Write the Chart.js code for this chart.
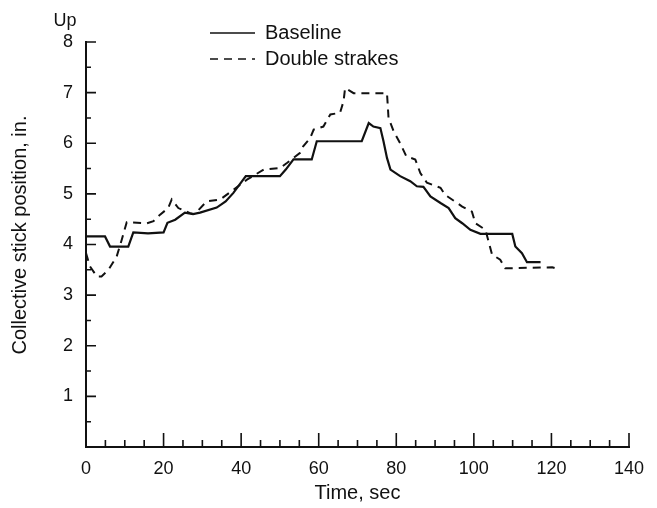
<!DOCTYPE html>
<html>
<head>
<meta charset="utf-8">
<script src="https://cdn.jsdelivr.net/npm/chart.js@4/dist/chart.umd.min.js"></script>
<style>
  body { margin: 0; background: #fff; }
  canvas { display: block; }
</style>
</head>
<body>
<canvas id="myChart" width="657" height="508"></canvas>
<script>
// data (time in sec, stick position in inches)
const seriesNames = ['Baseline', 'Double strakes'];

const baselineTime = [0, 4.9, 6.2, 10.9, 12.2, 16, 20, 21, 23, 25.5, 27.6, 29.4, 33.7, 36, 38, 41.2, 45, 50, 51.5, 53.5,
  58.2, 59.5, 65, 71.1, 72.9, 74.1, 75.9, 76.7, 77.6, 78.5, 81, 83.6, 85.3, 87, 88.8, 91.4, 93.5, 95.2, 97, 99.1,
  101.7, 105, 109.9, 110.7, 112.4, 113.7, 117.2];
const baselinePos = [4.16, 4.16, 3.96, 3.96, 4.24, 4.22, 4.24, 4.43, 4.49, 4.63, 4.6, 4.63, 4.73, 4.85, 5.02, 5.35, 5.35, 5.35, 5.48, 5.68,
  5.68, 6.04, 6.04, 6.04, 6.40, 6.33, 6.30, 6.04, 5.71, 5.48, 5.35, 5.25, 5.15, 5.14, 4.95, 4.82, 4.72, 4.52, 4.42, 4.29,
  4.21, 4.21, 4.21, 3.96, 3.83, 3.65, 3.65];

const strakesTime = [0, 1, 2.8, 4, 5.8, 7.9, 9.2, 10.5, 15.7, 17.4, 19.1, 21.2, 22.1, 23.8, 26.8, 28, 31.1, 34.6, 38, 41.5,
  45.8, 50, 51.8, 55.2, 56, 57.8, 58.7, 61.2, 63, 65.5, 66.4, 66.8, 69, 77.6, 78, 79.3, 81, 82.6, 84.9, 86.2,
  87.9, 91.4, 92.6, 97, 99.5, 100.4, 103, 103.9, 104.7, 106.8, 108.1, 120.2, 122.3];
const strakesPos = [3.83, 3.57, 3.37, 3.37, 3.5, 3.76, 4.09, 4.44, 4.42, 4.46, 4.59, 4.72, 4.89, 4.72, 4.62, 4.6, 4.85, 4.89, 5.08, 5.28,
  5.48, 5.51, 5.61, 5.81, 5.94, 6.1, 6.27, 6.33, 6.57, 6.6, 6.83, 7.09, 6.99, 6.99, 6.5, 6.24, 6.0, 5.74, 5.68, 5.41,
  5.22, 5.12, 4.98, 4.75, 4.65, 4.42, 4.29, 4.03, 3.8, 3.7, 3.53, 3.55, 3.5];

const xTickValues = [0, 20, 40, 60, 80, 100, 120, 140];
const yTickValues = [1, 2, 3, 4, 5, 6, 7, 8];
const yTitle = 'Collective stick position, in.';

const FONT = '"Liberation Sans", Arial, sans-serif';
const INK = '#111';

function toPoints(xs, ys) {
  return xs.map((x, i) => ({ x: x, y: ys[i] }));
}

// inward tick marks, y title, "Up" label and the legend
const decorations = {
  id: 'decorations',
  afterDraw(chart) {
    const c = chart.ctx;
    const xs = chart.scales.x;
    const ys = chart.scales.y;
    const x0 = xs.getPixelForValue(0);
    const y0 = ys.getPixelForValue(0);
    c.save();
    c.strokeStyle = INK;
    c.lineWidth = 1.6;
    c.beginPath();
    for (let t = 5; t <= 140; t += 5) {
      const px = xs.getPixelForValue(t);
      const len = t % 20 === 0 ? 14 : 7;
      c.moveTo(px, y0);
      c.lineTo(px, y0 - len);
    }
    for (let v = 0.5; v <= 8; v += 0.5) {
      const py = ys.getPixelForValue(v);
      const len = v % 1 === 0 ? 10 : 5;
      c.moveTo(x0, py);
      c.lineTo(x0 + len, py);
    }
    c.stroke();

    c.fillStyle = INK;
    c.textAlign = 'center';
    c.textBaseline = 'middle';
    c.font = '18px ' + FONT;
    c.fillText('Up', 65, 21);

    c.font = '20px ' + FONT;
    c.save();
    c.translate(20, 235);
    c.rotate(-Math.PI / 2);
    c.fillText(yTitle, 0, 0);
    c.restore();

    // legend
    const ds = chart.data.datasets;
    const rows = [33, 59];
    c.textAlign = 'left';
    ds.forEach((d, i) => {
      c.lineWidth = 1.6;
      c.setLineDash(d.borderDash || []);
      c.beginPath();
      c.moveTo(210, rows[i]);
      c.lineTo(255, rows[i]);
      c.stroke();
      c.setLineDash([]);
      c.fillText(d.label, 265, rows[i]);
    });
    c.restore();
  }
};

const ctx = document.getElementById('myChart');
new Chart(ctx, {
  type: 'line',
  data: {
    datasets: [{
      label: seriesNames[0],
      data: toPoints(baselineTime, baselinePos),
      borderColor: INK,
      borderWidth: 2.2,
      pointRadius: 0,
      tension: 0
    }, {
      label: seriesNames[1],
      data: toPoints(strakesTime, strakesPos),
      borderColor: INK,
      borderWidth: 2,
      borderDash: [8, 6],
      pointRadius: 0,
      tension: 0
    }]
  },
  options: {
    responsive: false,
    animation: false,
    layout: { padding: { top: 42, right: 28, bottom: 0, left: 0 } },
    plugins: {
      legend: { display: false },
      tooltip: { enabled: false }
    },
    scales: {
      x: {
        type: 'linear',
        min: 0,
        max: 140,
        afterBuildTicks: s => { s.ticks = xTickValues.map(v => ({ value: v })); },
        afterFit: s => { s.height = 61; },
        grid: { display: false, drawTicks: false },
        border: { display: true, color: INK, width: 2 },
        ticks: { color: INK, padding: 11, maxRotation: 0, font: { family: FONT, size: 18 } },
        title: {
          display: true,
          text: 'Time, sec',
          color: INK,
          padding: { top: 0, bottom: 3 },
          font: { family: FONT, size: 20 }
        }
      },
      y: {
        min: 0,
        max: 8,
        afterBuildTicks: s => { s.ticks = yTickValues.map(v => ({ value: v })); },
        afterFit: s => { s.width = 86; },
        grid: { display: false, drawTicks: false },
        border: { display: true, color: INK, width: 2 },
        ticks: { color: INK, padding: 13, font: { family: FONT, size: 18 } }
      }
    }
  },
  plugins: [decorations]
});
</script>
</body>
</html>
